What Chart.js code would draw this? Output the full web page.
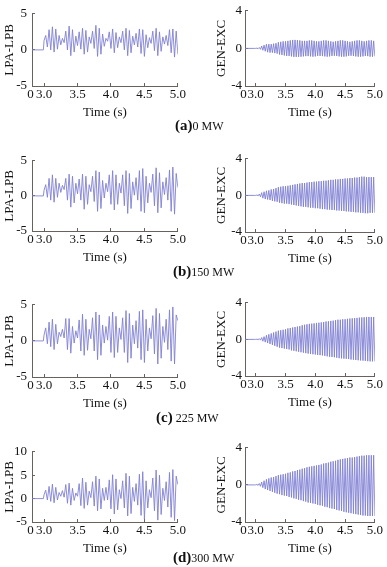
<!DOCTYPE html>
<html><head><meta charset="utf-8">
<script src="https://cdn.jsdelivr.net/npm/chart.js@4.4.1/dist/chart.umd.min.js"></script>
<style>
html,body{margin:0;padding:0;background:#fff;width:387px;height:567px;overflow:hidden;position:relative;font-family:'Liberation Serif','Times New Roman',serif;}
.box{position:absolute;}
.cap{position:absolute;white-space:nowrap;color:#111;line-height:18px;height:18px;}
.cap b{font-size:15px;}
.cap span{font-size:12px;}
</style></head><body>
<div class="box" id="bLa"><canvas id="cLa"></canvas></div>
<div class="box" id="bRa"><canvas id="cRa"></canvas></div>
<div class="box" id="bLb"><canvas id="cLb"></canvas></div>
<div class="box" id="bRb"><canvas id="cRb"></canvas></div>
<div class="box" id="bLc"><canvas id="cLc"></canvas></div>
<div class="box" id="bRc"><canvas id="cRc"></canvas></div>
<div class="box" id="bLd"><canvas id="cLd"></canvas></div>
<div class="box" id="bRd"><canvas id="cRd"></canvas></div>
<div class="cap" style="left:175px;top:116px"><b>(a)</b><span>0 MW</span></div>
<div class="cap" style="left:173px;top:262px"><b>(b)</b><span>150 MW</span></div>
<div class="cap" style="left:156px;top:408px"><b>(c)</b><span> 225 MW</span></div>
<div class="cap" style="left:173px;top:548px"><b>(d)</b><span>300 MW</span></div>
<script>
// ---- axis tick labels ----
const xTickVals = [2.82, 3.0, 3.5, 4.0, 4.5, 5.0];
const xTickLabels = ['0\u2005', '3.0', '3.5', '4.0', '4.5', '5.0'];
const lpaTicks = [-5, 0, 5];
const lpaTicksD = [-5, 0, 5, 10];
const genTicks = [-4, 0, 4];
const captions = ['(a) 0 MW', '(b) 150 MW', '(c) 225 MW', '(d) 300 MW'];

// ---- sample times (s) ----
const tLPA = [2.82,2.99,
 3,3.025,3.05,3.075,3.1,3.125,3.15,3.175,3.2,3.225,3.25,3.275,3.3,3.325,3.35,3.375,3.4,3.425,3.45,3.475,
 3.5,3.525,3.55,3.575,3.6,3.625,3.65,3.675,3.7,3.725,3.75,3.775,3.8,3.825,3.85,3.875,3.9,3.925,3.95,3.975,
 4,4.025,4.05,4.075,4.1,4.125,4.15,4.175,4.2,4.225,4.25,4.275,4.3,4.325,4.35,4.375,4.4,4.425,4.45,4.475,
 4.5,4.525,4.55,4.575,4.6,4.625,4.65,4.675,4.7,4.725,4.75,4.775,4.8,4.825,4.85,4.875,4.9,4.925,4.95,4.975,5];
const tGEN = [2.82,2.98,
 3,3.02,3.04,3.06,3.08,3.1,3.12,3.14,3.16,3.18,3.2,3.22,3.24,3.26,3.28,3.3,3.32,3.34,3.36,3.38,
 3.4,3.42,3.44,3.46,3.48,3.5,3.52,3.54,3.56,3.58,3.6,3.62,3.64,3.66,3.68,3.7,3.72,3.74,3.76,3.78,
 3.8,3.82,3.84,3.86,3.88,3.9,3.92,3.94,3.96,3.98,4,4.02,4.04,4.06,4.08,4.1,4.12,4.14,4.16,4.18,
 4.2,4.22,4.24,4.26,4.28,4.3,4.32,4.34,4.36,4.38,4.4,4.42,4.44,4.46,4.48,4.5,4.52,4.54,4.56,4.58,
 4.6,4.62,4.64,4.66,4.68,4.7,4.72,4.74,4.76,4.78,4.8,4.82,4.84,4.86,4.88,4.9,4.92,4.94,4.96,4.98,5];

// ---- LPA-LPB values (peak, trough per cycle) ----
const lpaA = [0,0,1.3,
 2.0,0.4, 2.8,0.0, 3.2,-0.3, 2.9,0.1, 2.0,0.7, 1.6,1.0, 2.6,0.0, 3.3,-0.8, 2.8,-0.3, 1.9,0.6,
 2.5,0.1, 3.0,-0.6, 2.7,-0.3, 1.8,0.9, 2.6,0.2, 3.4,-0.9, 3.0,-0.6, 2.2,0.5, 1.6,1.2, 2.5,0.2,
 2.9,-0.4, 2.4,0.3, 1.8,1.0, 2.6,0.0, 3.0,-0.8, 2.7,-0.4, 1.9,0.7, 2.3,0.4, 2.9,-0.5, 2.8,-0.9,
 2.1,0.3, 1.7,0.9, 2.6,-0.1, 3.0,-0.8, 2.5,-0.2, 1.8,0.8, 2.0,0.6, 2.8,-0.4, 2.9,-1.0, 2.6,-0.6];
const lpaB = [0,0,0.8,
 1.6,-0.2, 2.5,-0.6, 3.0,-0.9, 2.5,-0.2, 1.8,0.5, 1.5,0.9, 2.5,-0.6, 3.1,-1.6, 2.8,-1.0, 1.8,0.3,
 2.4,-0.6, 3.1,-1.9, 2.8,-1.2, 1.6,0.6, 2.8,-0.8, 3.6,-2.2, 3.4,-1.8, 2.2,-0.3, 1.8,0.6, 3.0,-1.2,
 3.6,-2.0, 3.0,-1.2, 1.8,0.4, 3.0,-1.4, 3.6,-2.5, 3.2,-1.8, 2.0,0.1, 2.6,-0.6, 3.6,-2.2, 3.9,-2.4,
 2.8,-1.0, 1.8,0.5, 3.1,-1.4, 4.0,-2.4, 3.3,-1.7, 2.0,0.2, 2.6,-0.6, 3.7,-2.2, 4.1,-2.6, 3.2,1.2];
const lpaC = [0,0,0.8,
 1.8,-0.4, 2.6,-0.8, 3.0,-1.2, 2.3,-0.4, 1.2,0.6, 1.6,0.4, 3.1,-1.2, 3.1,-1.7, 2.0,-0.3, 1.4,0.4,
 2.9,-1.4, 3.7,-2.0, 3.0,-1.3, 1.6,0.3, 3.2,-1.4, 4.0,-2.6, 3.6,-2.0, 2.2,-0.3, 2.0,0.1, 3.4,-1.6,
 4.0,-2.3, 3.4,-1.6, 1.8,0.2, 3.2,-1.6, 4.2,-3.0, 3.8,-2.4, 2.2,-0.4, 2.8,-1.0, 4.1,-2.6, 4.3,-3.0,
 3.0,-1.4, 1.8,0.3, 3.5,-1.8, 4.5,-3.2, 3.8,-2.4, 2.0,-0.2, 3.0,-1.2, 4.3,-2.8, 4.7,-3.2, 3.6,2.8];
const lpaD = [0,0,0.8,
 1.8,-0.3, 2.6,-0.6, 3.1,-0.9, 2.4,-0.3, 1.3,0.5, 1.7,0.3, 3.0,-1.0, 3.3,-1.4, 2.2,-0.4, 1.2,0.5,
 3.2,-1.5, 4.4,-2.1, 3.5,-1.4, 1.6,0.2, 3.6,-1.6, 4.8,-2.6, 4.2,-2.2, 2.2,-0.4, 2.4,-0.3, 4.0,-2.2,
 5.1,-3.3, 4.2,-2.4, 1.9,0.0, 3.8,-2.0, 5.4,-3.7, 4.8,-3.2, 2.4,-0.6, 3.2,-1.4, 5.2,-3.6, 5.75,-4.4,
 3.8,-2.0, 1.9,0.2, 4.4,-2.6, 6.1,-4.6, 5.0,-3.4, 2.2,-0.4, 3.6,-1.8, 5.6,-4.0, 6.2,-4.7, 4.8,3.0];

// ---- GEN-EXC values (peak, trough per cycle) ----
const genA = [0,0,0,
 0.03,-0.03, 0.1,-0.1, 0.25,-0.2, 0.35,-0.3, 0.45,-0.4, 0.45,-0.45, 0.45,-0.45, 0.5,-0.5, 0.55,-0.55, 0.65,-0.65,
 0.7,-0.7, 0.75,-0.75, 0.75,-0.8, 0.8,-0.8, 0.85,-0.85, 0.9,-0.9, 0.9,-0.9, 0.88,-0.9, 0.85,-0.88, 0.8,-0.85,
 0.8,-0.82, 0.8,-0.82, 0.85,-0.85, 0.85,-0.88, 0.8,-0.85, 0.75,-0.8, 0.75,-0.8, 0.8,-0.82, 0.85,-0.85, 0.85,-0.88,
 0.8,-0.85, 0.75,-0.8, 0.7,-0.78, 0.75,-0.8, 0.8,-0.85, 0.85,-0.88, 0.85,-0.88, 0.8,-0.85, 0.75,-0.8, 0.7,-0.78,
 0.75,-0.8, 0.8,-0.85, 0.85,-0.88, 0.85,-0.88, 0.8,-0.85, 0.75,-0.8, 0.8,-0.82, 0.85,-0.88, 0.85,-0.88, 0.8,-0.85];
const genB = [0,0,0,
 0.05,-0.05, 0.15,-0.15, 0.3,-0.3, 0.4,-0.4, 0.5,-0.45, 0.55,-0.5, 0.65,-0.6, 0.7,-0.65, 0.8,-0.7, 0.9,-0.8,
 0.95,-0.85, 1.0,-0.9, 1.0,-0.9, 1.05,-0.95, 1.1,-1.0, 1.15,-1.05, 1.2,-1.1, 1.25,-1.15, 1.3,-1.2, 1.35,-1.25,
 1.35,-1.25, 1.4,-1.3, 1.45,-1.35, 1.45,-1.35, 1.5,-1.4, 1.5,-1.4, 1.55,-1.45, 1.55,-1.5, 1.6,-1.5, 1.6,-1.55,
 1.65,-1.55, 1.7,-1.6, 1.7,-1.6, 1.75,-1.65, 1.75,-1.65, 1.8,-1.7, 1.8,-1.7, 1.85,-1.75, 1.85,-1.75, 1.9,-1.8,
 1.9,-1.8, 1.95,-1.85, 1.95,-1.85, 2.0,-1.9, 2.05,-1.9, 2.05,-1.95, 2.0,-1.95, 2.0,-1.9, 2.0,-1.9, 2.0,-1.9];
const genC = [0,0,0,
 0.03,-0.03, 0.08,-0.08, 0.2,-0.2, 0.3,-0.3, 0.45,-0.4, 0.55,-0.5, 0.65,-0.6, 0.75,-0.7, 0.85,-0.8, 0.95,-0.9,
 1.0,-0.95, 1.05,-1.0, 1.1,-1.05, 1.2,-1.1, 1.25,-1.2, 1.3,-1.25, 1.35,-1.3, 1.4,-1.35, 1.45,-1.4, 1.55,-1.45,
 1.6,-1.5, 1.65,-1.55, 1.7,-1.6, 1.72,-1.62, 1.75,-1.65, 1.8,-1.7, 1.82,-1.72, 1.85,-1.75, 1.9,-1.8, 1.95,-1.85,
 1.98,-1.9, 2.02,-1.92, 2.05,-1.95, 2.1,-2.0, 2.15,-2.05, 2.15,-2.08, 2.2,-2.1, 2.2,-2.12, 2.25,-2.15, 2.28,-2.2,
 2.3,-2.22, 2.32,-2.25, 2.35,-2.28, 2.38,-2.3, 2.4,-2.32, 2.42,-2.35, 2.45,-2.38, 2.45,-2.4, 2.45,-2.4, 2.45,-2.4];
const genD = [0,0,0,
 0.05,-0.05, 0.15,-0.15, 0.3,-0.3, 0.45,-0.45, 0.6,-0.55, 0.7,-0.65, 0.8,-0.75, 0.85,-0.85, 0.95,-0.95, 1.05,-1.0,
 1.1,-1.1, 1.15,-1.15, 1.2,-1.2, 1.3,-1.3, 1.35,-1.35, 1.45,-1.45, 1.5,-1.5, 1.6,-1.6, 1.65,-1.65, 1.75,-1.75,
 1.8,-1.8, 1.9,-1.9, 1.95,-1.95, 2.0,-2.0, 2.05,-2.05, 2.1,-2.15, 2.15,-2.2, 2.2,-2.25, 2.3,-2.35, 2.35,-2.4,
 2.4,-2.5, 2.5,-2.55, 2.55,-2.6, 2.6,-2.7, 2.7,-2.75, 2.75,-2.8, 2.8,-2.9, 2.85,-2.95, 2.9,-3.0, 2.95,-3.05,
 2.95,-3.1, 3.0,-3.15, 3.05,-3.2, 3.1,-3.25, 3.15,-3.3, 3.15,-3.3, 3.2,-3.35, 3.2,-3.35, 3.2,-3.35, 3.2,-3.35];

// ---- styling ----
const FONT = {family: "'Liberation Serif','Times New Roman',serif", size: 13};
const TXT = '#141414';
const AXIS = '#67625e';
const LINE = 'rgb(128,128,212)';
const PT = 9, XH = 34;

function makeChart(id, cfg) {
  const box = document.getElementById('b' + id);
  const left = cfg.left, top = cfg.top - PT;
  const width = cfg.right - left + cfg.pr;
  const height = PT + (cfg.bottom - cfg.top) + XH;
  box.style.left = left + 'px'; box.style.top = top + 'px';
  box.style.width = width + 'px'; box.style.height = height + 'px';
  const pts = [];
  const n = Math.min(cfg.t.length, cfg.v.length);
  for (let i = 0; i < n; i++) pts.push({x: cfg.t[i], y: cfg.v[i]});
  new Chart(document.getElementById('c' + id), {
    type: 'line',
    data: {datasets: [{data: pts, borderColor: LINE, borderWidth: 0.9, pointRadius: 0, tension: 0, fill: false}]},
    options: {
      responsive: true, maintainAspectRatio: false, animation: false,
      layout: {padding: {top: PT, right: cfg.pr, left: 0, bottom: 0}},
      plugins: {legend: {display: false}, tooltip: {enabled: false}},
      scales: {
        x: {
          type: 'linear', min: xTickVals[0], max: xTickVals[xTickVals.length - 1],
          afterBuildTicks: s => { s.ticks = xTickVals.map(v => ({value: v})); },
          afterFit: s => { s.height = XH; },
          ticks: {font: FONT, color: TXT, padding: 4, maxRotation: 0, autoSkip: false,
                  callback: (v, i) => xTickLabels[i]},
          grid: {display: true, drawOnChartArea: false, drawTicks: true, tickLength: -3, color: AXIS},
          border: {display: true, color: AXIS, width: 1},
          title: {display: true, text: 'Time (s)', font: FONT, color: TXT, padding: {top: 0, bottom: 0}}
        },
        y: {
          type: 'linear', min: cfg.yt[0], max: cfg.yt[cfg.yt.length - 1],
          afterBuildTicks: s => { s.ticks = cfg.yt.map(v => ({value: v})); },
          afterFit: s => { s.width = cfg.yw; },
          ticks: {font: FONT, color: TXT, padding: cfg.yp, callback: v => String(v)},
          grid: {display: true, drawOnChartArea: false, drawTicks: true, tickLength: -3, color: AXIS},
          border: {display: true, color: AXIS, width: 1},
          title: {display: true, text: cfg.title, font: FONT, color: TXT, padding: {top: cfg.tp, bottom: 0}}
        }
      }
    }
  });
}

const L = {left: 0, right: 180, yw: 32, pr: 10, yp: 8, tp: 2, title: 'LPA-LPB', t: tLPA};
const R = {left: 210, right: 378, yw: 35, pr: 9, yp: 6, tp: 4, title: 'GEN-EXC', t: tGEN};
makeChart('La', Object.assign({}, L, {top: 7, bottom: 86, yt: lpaTicks, v: lpaA}));
makeChart('Ra', Object.assign({}, R, {top: 6, bottom: 86, yt: genTicks, v: genA}));
makeChart('Lb', Object.assign({}, L, {top: 154, bottom: 231, yt: lpaTicks, v: lpaB}));
makeChart('Rb', Object.assign({}, R, {top: 154, bottom: 232, yt: genTicks, v: genB}));
makeChart('Lc', Object.assign({}, L, {top: 298, bottom: 377, yt: lpaTicks, v: lpaC}));
makeChart('Rc', Object.assign({}, R, {top: 298, bottom: 376, yt: genTicks, v: genC}));
makeChart('Ld', Object.assign({}, L, {top: 445, bottom: 522, yt: lpaTicksD, v: lpaD}));
makeChart('Rd', Object.assign({}, R, {top: 443, bottom: 522, yt: genTicks, v: genD}));
</script>
</body></html>
